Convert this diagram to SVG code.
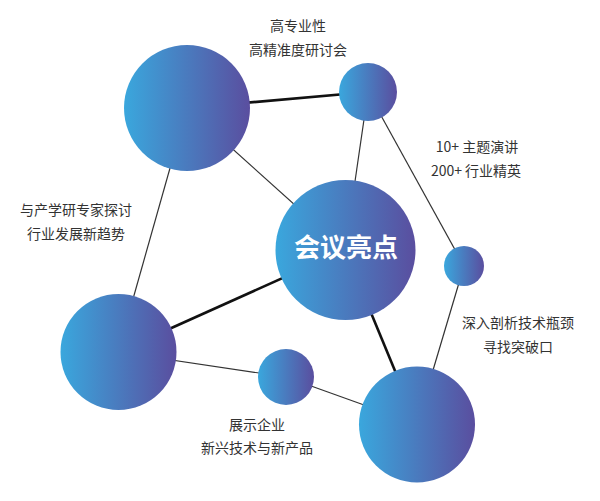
<svg xmlns="http://www.w3.org/2000/svg" width="600" height="501" viewBox="0 0 600 501">
<defs>
<linearGradient id="g" x1="0" y1="0" x2="1" y2="0">
<stop offset="0" stop-color="#3aa7dd"/>
<stop offset="1" stop-color="#5a4e9f"/>
</linearGradient>
</defs>
<style>
.thin{stroke:#333;stroke-width:1.2;fill:none}
.thick{stroke:#111;stroke-width:2.6;fill:none}
.c{fill:url(#g)}
.lbl{font-family:"Noto Sans CJK SC","Noto Sans",sans-serif;font-size:14px;fill:#333;text-anchor:middle}
.main{font-family:"Noto Sans CJK SC","Noto Sans",sans-serif;font-size:26px;font-weight:bold;fill:#fff;text-anchor:middle}
</style>
<rect width="600" height="501" fill="#fff"/>
<g id="connectors">
<line class="thick" x1="187" y1="108" x2="368" y2="92"/>
<line class="thin" x1="187" y1="108" x2="345" y2="250"/>
<line class="thin" x1="187" y1="108" x2="118" y2="352"/>
<line class="thin" x1="368" y1="92" x2="345" y2="250"/>
<line class="thin" x1="368" y1="92" x2="464" y2="266"/>
<line class="thick" x1="345" y1="250" x2="118" y2="352"/>
<line class="thick" x1="345" y1="250" x2="417" y2="424"/>
<line class="thin" x1="464" y1="266" x2="417" y2="424"/>
<line class="thin" x1="118" y1="352" x2="286" y2="377"/>
<line class="thin" x1="286" y1="377" x2="417" y2="424"/>
</g>
<g id="node-a"><circle class="c" cx="187" cy="108" r="63"/></g>
<g id="node-b"><circle class="c" cx="368" cy="92" r="29"/></g>
<g id="node-center"><circle class="c" cx="345.5" cy="250" r="70"/><text class="main" x="346" y="257">会议亮点</text></g>
<g id="node-d"><circle class="c" cx="118.5" cy="352" r="58"/></g>
<g id="node-e"><circle class="c" cx="286" cy="377" r="28"/></g>
<g id="node-f"><circle class="c" cx="417" cy="424.5" r="58"/></g>
<g id="node-g"><circle class="c" cx="464" cy="266" r="20"/></g>
<g id="labels">
<text class="lbl" x="298" y="31">高专业性</text>
<text class="lbl" x="298" y="55">高精准度研讨会</text>
<text class="lbl" x="477" y="152">10+ 主题演讲</text>
<text class="lbl" x="476" y="176">200+ 行业精英</text>
<text class="lbl" x="76" y="215">与产学研专家探讨</text>
<text class="lbl" x="76" y="239">行业发展新趋势</text>
<text class="lbl" x="518" y="328">深入剖析技术瓶颈</text>
<text class="lbl" x="518" y="352">寻找突破口</text>
<text class="lbl" x="257" y="430">展示企业</text>
<text class="lbl" x="257" y="453">新兴技术与新产品</text>
</g>
</svg>
